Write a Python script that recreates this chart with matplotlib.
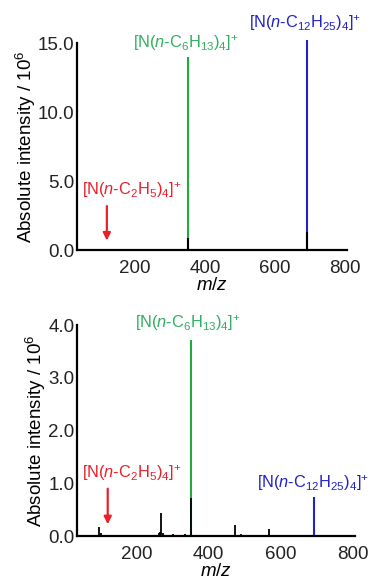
import numpy as np
import matplotlib
matplotlib.use('Agg')
import matplotlib.pyplot as plt
from matplotlib.ticker import FormatStrFormatter

plt.rcParams['font.family'] = ['Liberation Sans', 'DejaVu Sans']
plt.rcParams['mathtext.fontset'] = 'custom'
plt.rcParams['mathtext.rm'] = 'Liberation Sans'
plt.rcParams['mathtext.it'] = 'Liberation Sans:italic'

# m/z of the labelled ions
mz_c2 = 120
mz_c6 = 351
mz_c12 = 691

# top spectrum (intensity / 1e6)
top_black_mz = [351, 691]
top_black_int = [0.9, 1.3]
top_c6_int = 14.0
top_c12_int = 15.2

# bottom spectrum (intensity / 1e6)
bot_black_mz = [95, 100, 150, 180, 262, 266, 269, 272, 300, 305, 335, 351, 380, 400, 473,
                490, 505, 520, 540, 566, 590, 620, 640]
bot_black_int = [0.17, 0.05, 0.01, 0.01, 0.05, 0.07, 0.44, 0.06, 0.04, 0.02, 0.03, 0.72,
                 0.01, 0.01, 0.20, 0.03, 0.02, 0.02, 0.01, 0.13, 0.02, 0.01, 0.01]
bot_c6_int = 3.72
bot_c12_int = 0.74

green = '#22aa3c'
green_txt = '#2eb060'
blue = '#2222c8'
red = '#e8202a'

lab_c2 = r'[N($n$-C$_2$H$_5$)$_4$]$^{+}$'
lab_c6 = r'[N($n$-C$_6$H$_{13}$)$_4$]$^{+}$'
lab_c12 = r'[N($n$-C$_{12}$H$_{25}$)$_4$]$^{+}$'

fig = plt.figure(figsize=(3.74, 5.82), dpi=100)
ax1 = fig.add_axes([0.206, 0.570, 0.722, 0.356])
ax2 = fig.add_axes([0.206, 0.079, 0.743, 0.3625])


def style(ax, ymax, step):
	for s in ['top', 'right']:
		ax.spines[s].set_visible(False)
	for s in ['left', 'bottom']:
		ax.spines[s].set_linewidth(1.6)
	ax.set_xlim(35, 805)
	ax.set_ylim(0, ymax)
	ax.set_xticks([200, 400, 600, 800])
	ax.set_yticks(np.arange(0, ymax + 0.01, step))
	ax.yaxis.set_major_formatter(FormatStrFormatter('%.1f'))
	ax.tick_params(length=0, labelsize=13.5, colors='#222222')
	ax.tick_params(axis='x', pad=7)
	ax.tick_params(axis='y', pad=2)
	ax.set_xlabel(r'$m/z$', fontsize=13.5, labelpad=0)
	ax.set_ylabel(r'Absolute intensity / 10$^6$', fontsize=13.5, labelpad=0)


# top
ax1.vlines(mz_c6, 0, top_c6_int, color=green, lw=1.5, clip_on=False)
ax1.vlines(mz_c12, 0, top_c12_int, color=blue, lw=1.5, clip_on=False)
ax1.vlines(top_black_mz, 0, top_black_int, color='black', lw=1.5)
ax1.annotate('', xy=(mz_c2, 0.5), xytext=(mz_c2, 3.4),
             arrowprops=dict(arrowstyle='-|>', color=red, lw=1.6, mutation_scale=11))
ax1.text(190, 4.35, lab_c2, color=red, fontsize=11.8, ha='center', va='center')
ax1.text(346, 15.0, lab_c6, color=green_txt, fontsize=11.8, ha='center', va='center')
ax1.text(685, 16.45, lab_c12, color=blue, fontsize=11.8, ha='center', va='center')
style(ax1, 15.0, 5.0)

# bottom
ax2.vlines(mz_c6, 0, bot_c6_int, color=green, lw=1.5)
ax2.vlines(mz_c12, 0, bot_c12_int, color=blue, lw=1.5)
ax2.vlines(bot_black_mz, 0, bot_black_int, color='black', lw=1.3)
ax2.annotate('', xy=(mz_c2, 0.17), xytext=(mz_c2, 0.95),
             arrowprops=dict(arrowstyle='-|>', color=red, lw=1.6, mutation_scale=11))
ax2.text(187, 1.19, lab_c2, color=red, fontsize=11.8, ha='center', va='center')
ax2.text(342, 4.04, lab_c6, color=green_txt, fontsize=11.8, ha='center', va='center')
ax2.text(689, 1.0, lab_c12, color=blue, fontsize=11.8, ha='center', va='center')
style(ax2, 4.0, 1.0)

fig.savefig('out.png', dpi=100)
